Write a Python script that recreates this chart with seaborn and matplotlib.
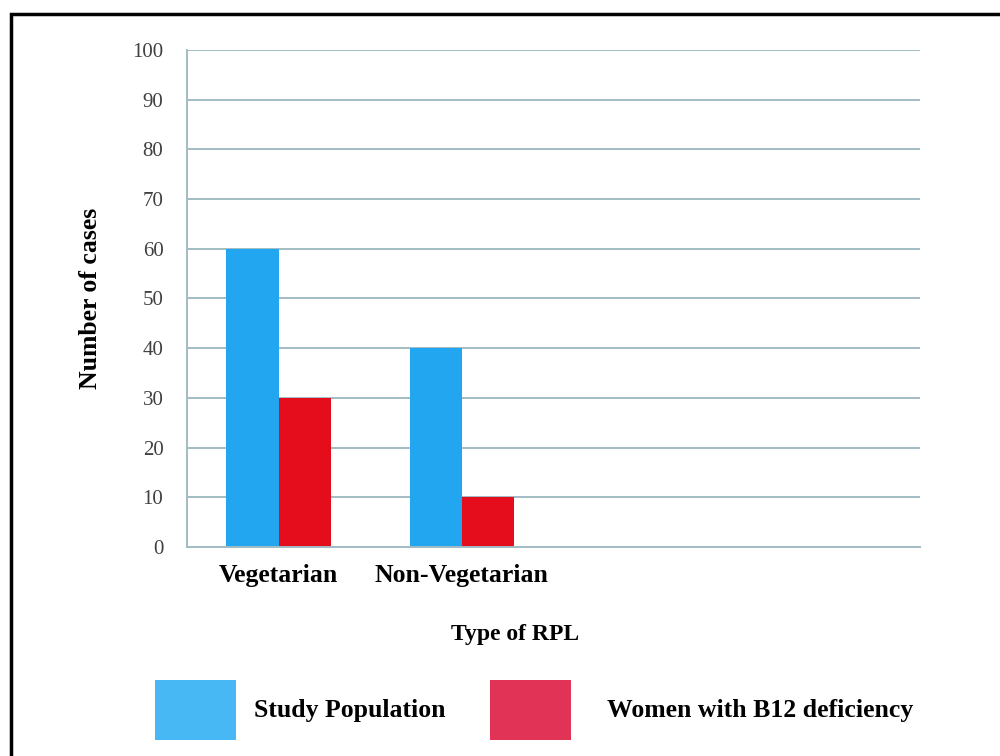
import matplotlib
matplotlib.use("Agg")
import matplotlib.pyplot as plt
import seaborn as sns
import pandas as pd
from matplotlib.patches import Patch, Rectangle

categories = ["Vegetarian", "Non-Vegetarian", "slot3", "slot4"]
shown_categories = ["Vegetarian", "Non-Vegetarian"]
series_names = ["Study Population", "Women with B12 deficiency"]
study_population = [60, 40]
b12_deficiency = [30, 10]
y_ticks = [0, 10, 20, 30, 40, 50, 60, 70, 80, 90, 100]

bar_colors = ["#21a6ef", "#e50d1b"]
legend_colors = ["#48b8f5", "#e03355"]
grid_color = "#a2bcc3"

df = pd.DataFrame({
    "Type": shown_categories * 2,
    "Series": [series_names[0]] * 2 + [series_names[1]] * 2,
    "Cases": study_population + b12_deficiency,
})

sns.set_style("white")
plt.rcParams["font.family"] = ["Liberation Serif", "DejaVu Serif"]
plt.rcParams["text.color"] = "black"
plt.rcParams["axes.labelcolor"] = "black"

fig = plt.figure(figsize=(10, 7.56), dpi=100)
ax = fig.add_axes([0.187, 0.2765, 0.733, 0.6575])

sns.barplot(data=df, x="Type", y="Cases", hue="Series", order=categories,
            hue_order=series_names, palette=bar_colors, width=0.57,
            saturation=1, ax=ax, legend=False, linewidth=0)

ax.set_xlim(-0.5, 3.5)
ax.set_ylim(0, 100)
ax.set_yticks(y_ticks)
ax.set_yticklabels([str(v) for v in y_ticks], fontsize=15, color="#404040")
ax.yaxis.grid(True, color=grid_color, linewidth=1.4)
ax.set_axisbelow(True)

ax.set_xticks(range(len(categories)))
ax.set_xticklabels(["Vegetarian", "Non-Vegetarian", "", ""],
                   fontsize=18.5, fontweight="bold", color="black")
ax.tick_params(axis="x", length=0, pad=12)
ax.set_xticks([-0.5, 0.5, 1.5, 2.5, 3.5], minor=True)
ax.tick_params(axis="x", which="minor", length=6, color=grid_color, width=1.4)
ax.tick_params(axis="y", length=6, color=grid_color, width=1.4, pad=11)

for s in ["top", "right"]:
    ax.spines[s].set_visible(False)
for s in ["left", "bottom"]:
    ax.spines[s].set_color(grid_color)
    ax.spines[s].set_linewidth(1.4)

ax.set_xlabel("Type of RPL", fontsize=17, fontweight="bold", labelpad=27)
ax.xaxis.label.set_x(0.447)
ax.set_ylabel("Number of cases", fontsize=18.5, fontweight="bold", labelpad=22)

legend_specs = [
    (0, (0.155, 0.061), 0.7),
    (1, (0.49, 0.061), 1.4),
]
for idx, anchor, pad in legend_specs:
    h = Patch(facecolor=legend_colors[idx], edgecolor="none", label=series_names[idx])
    fig.legend(handles=[h], loc="center left", bbox_to_anchor=anchor,
               frameon=False, prop={"size": 18.5, "weight": "bold"},
               handlelength=3.15, handleheight=3.2, handletextpad=pad,
               borderpad=0, borderaxespad=0)

fig.patches.append(Rectangle((0.011, -0.1), 1.2, 1.082, transform=fig.transFigure,
                             fill=False, edgecolor="black", linewidth=2.5))

fig.savefig("out.png", dpi=100)
